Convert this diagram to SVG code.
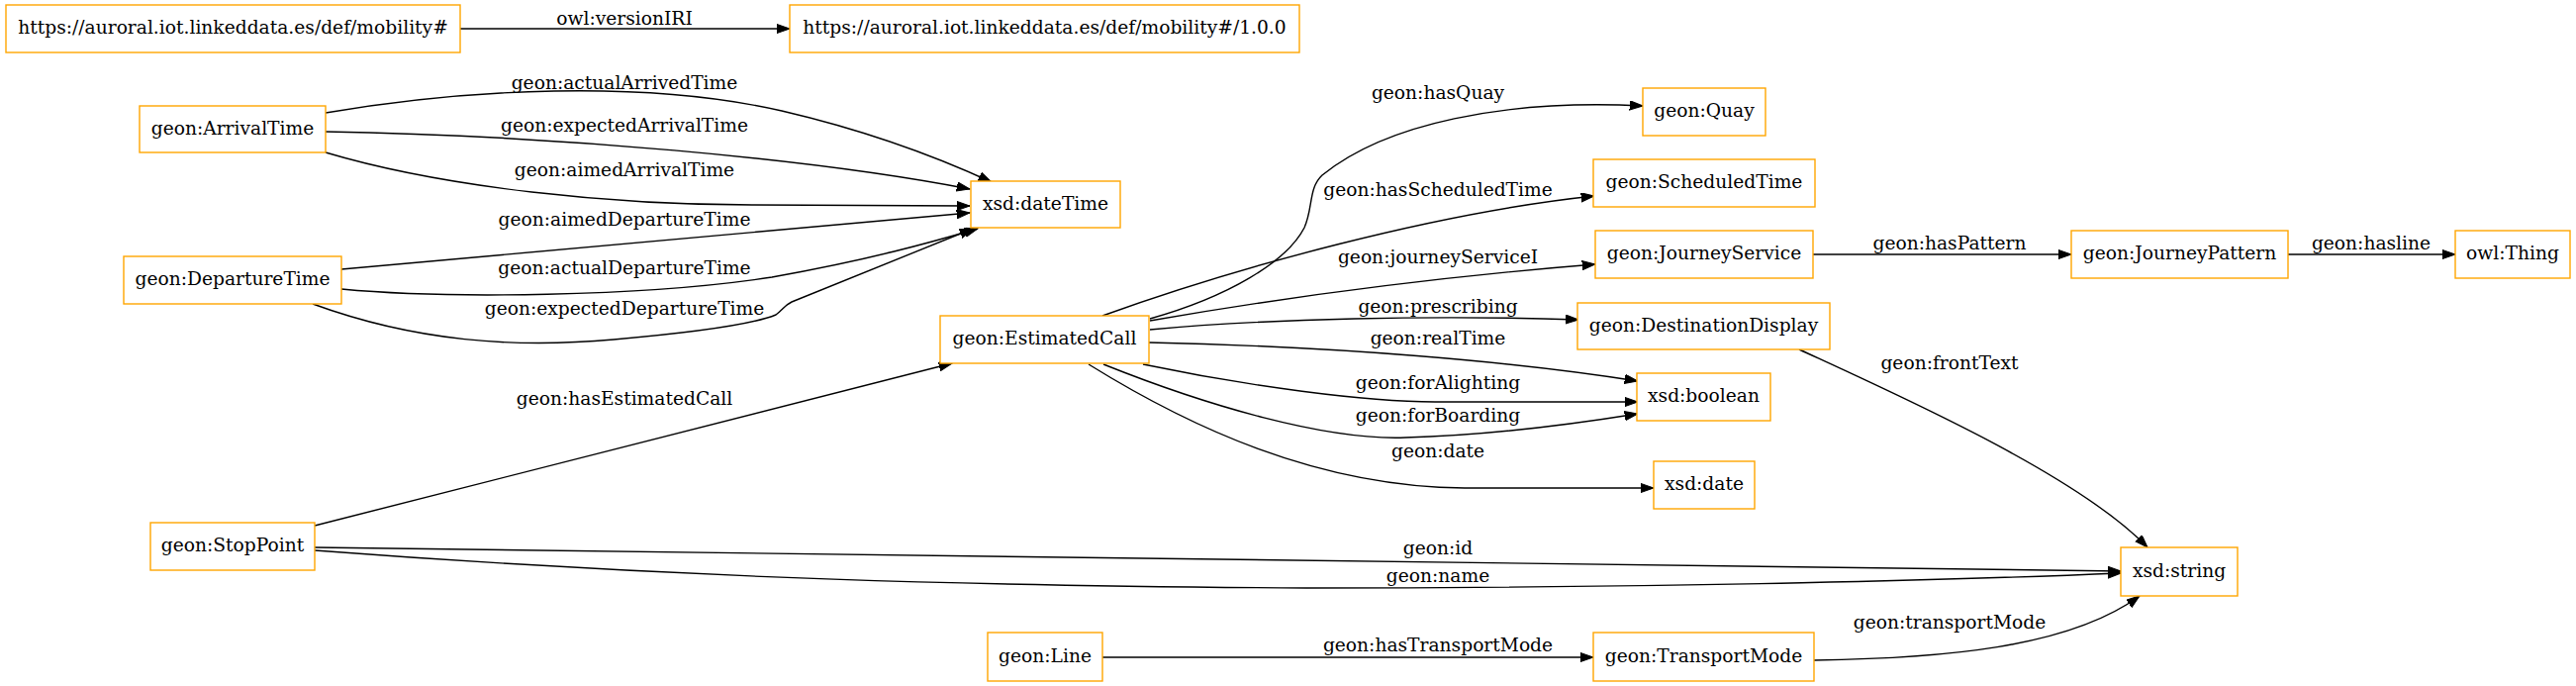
<svg xmlns="http://www.w3.org/2000/svg" width="2603" height="693" viewBox="0 0 2603 693">
<style>
.n rect{fill:#fff;stroke:#FFA500;stroke-width:1.4}
.n text,.lbl text{font-family:"DejaVu Serif","Liberation Serif",serif;font-size:18.67px;fill:#000;text-anchor:middle}
.e path{fill:none;stroke:#000;stroke-width:1.4}
</style>
<defs>
<marker id="ah" markerUnits="userSpaceOnUse" viewBox="0 0 14 10" refX="13.3" refY="4.67" markerWidth="14" markerHeight="10" orient="auto">
<path d="M0,0 L13.3,4.67 L0,9.33 z" fill="#000" stroke="#000" stroke-width="1"/>
</marker>
</defs>
<rect width="2603" height="693" fill="#fff"/>
<g id="edges" class="e">
<path marker-end="url(#ah)" d="M465,29 L798,29"/>
<path marker-end="url(#ah)" d="M329,114 C470,90 650,80 790,112 C880,133 950,160 1002,184"/>
<path marker-end="url(#ah)" d="M329,133 C560,137 820,160 980,191"/>
<path marker-end="url(#ah)" d="M329,154 C450,190 620,207 760,207 C850,207 930,208 980,208"/>
<path marker-end="url(#ah)" d="M345,272 L980,215"/>
<path marker-end="url(#ah)" d="M345,292 C450,302 650,300 780,280 C880,262 940,245 988,231"/>
<path marker-end="url(#ah)" d="M316,307 C420,345 520,352 620,343 C700,336 760,328 784,318 C792,312 792,309 800,305 L983,231"/>
<path marker-end="url(#ah)" d="M318,531 L962,367"/>
<path marker-end="url(#ah)" d="M1162,322 C1240,300 1300,265 1318,230 C1327,210 1322,190 1336,177 C1400,125 1520,100 1660,107"/>
<path marker-end="url(#ah)" d="M1114,319 C1250,270 1450,215 1611,198"/>
<path marker-end="url(#ah)" d="M1162,324 C1300,300 1450,280 1612,267"/>
<path marker-end="url(#ah)" d="M1162,333 C1280,322 1450,318 1595,323"/>
<path marker-end="url(#ah)" d="M1161,346 C1350,350 1530,365 1655,385"/>
<path marker-end="url(#ah)" d="M1155,368 C1260,390 1380,406 1450,406 L1655,406"/>
<path marker-end="url(#ah)" d="M1115,368 C1220,410 1340,445 1420,442 C1500,440 1580,430 1655,418"/>
<path marker-end="url(#ah)" d="M1100,368 C1200,430 1330,492 1480,493 L1671,493"/>
<path marker-end="url(#ah)" d="M1832,257 L2093,257"/>
<path marker-end="url(#ah)" d="M2312,257 L2481,257"/>
<path marker-end="url(#ah)" d="M1818,353 C1920,400 2100,480 2170,553"/>
<path marker-end="url(#ah)" d="M318,553 L2143,577"/>
<path marker-end="url(#ah)" d="M318,556 C700,585 1000,592 1320,594 C1700,594 2000,585 2143,579"/>
<path marker-end="url(#ah)" d="M1114,664 L1610,664"/>
<path marker-end="url(#ah)" d="M1833,667 C1960,665 2090,655 2162,602"/>
</g>
<g id="edge-labels" class="lbl">
<text x="631" y="25">owl:versionIRI</text>
<text x="631" y="90">geon:actualArrivedTime</text>
<text x="631" y="133">geon:expectedArrivalTime</text>
<text x="631" y="178">geon:aimedArrivalTime</text>
<text x="631" y="228">geon:aimedDepartureTime</text>
<text x="631" y="277">geon:actualDepartureTime</text>
<text x="631" y="318">geon:expectedDepartureTime</text>
<text x="631" y="409">geon:hasEstimatedCall</text>
<text x="1453" y="100">geon:hasQuay</text>
<text x="1453" y="198">geon:hasScheduledTime</text>
<text x="1453" y="266">geon:journeyServiceI</text>
<text x="1453" y="316">geon:prescribing</text>
<text x="1453" y="348">geon:realTime</text>
<text x="1453" y="393">geon:forAlighting</text>
<text x="1453" y="426">geon:forBoarding</text>
<text x="1453" y="462">geon:date</text>
<text x="1970" y="252">geon:hasPattern</text>
<text x="2396" y="252">geon:hasline</text>
<text x="1970" y="373">geon:frontText</text>
<text x="1453" y="560">geon:id</text>
<text x="1453" y="588">geon:name</text>
<text x="1453" y="658">geon:hasTransportMode</text>
<text x="1970" y="635">geon:transportMode</text>
</g>
<g id="n-mobility" class="n"><rect x="6" y="5" width="459" height="48"/><text x="235.5" y="34">https://auroral.iot.linkeddata.es/def/mobility#</text></g>
<g id="n-mobility-version" class="n"><rect x="798" y="5" width="515" height="48"/><text x="1055.5" y="34">https://auroral.iot.linkeddata.es/def/mobility#/1.0.0</text></g>
<g id="n-ArrivalTime" class="n"><rect x="141" y="107" width="188" height="47"/><text x="235" y="136">geon:ArrivalTime</text></g>
<g id="n-DepartureTime" class="n"><rect x="125" y="259" width="220" height="48"/><text x="235" y="288">geon:DepartureTime</text></g>
<g id="n-dateTime" class="n"><rect x="981" y="183" width="151" height="47"/><text x="1056.5" y="212">xsd:dateTime</text></g>
<g id="n-EstimatedCall" class="n"><rect x="950" y="319" width="211" height="48"/><text x="1055.5" y="348">geon:EstimatedCall</text></g>
<g id="n-StopPoint" class="n"><rect x="152" y="528" width="166" height="48"/><text x="235" y="557">geon:StopPoint</text></g>
<g id="n-Line" class="n"><rect x="998" y="639" width="116" height="49"/><text x="1056" y="669">geon:Line</text></g>
<g id="n-Quay" class="n"><rect x="1660" y="89" width="124" height="48"/><text x="1722" y="118">geon:Quay</text></g>
<g id="n-ScheduledTime" class="n"><rect x="1610" y="161" width="224" height="48"/><text x="1722" y="190">geon:ScheduledTime</text></g>
<g id="n-JourneyService" class="n"><rect x="1612" y="233" width="220" height="48"/><text x="1722" y="262">geon:JourneyService</text></g>
<g id="n-JourneyPattern" class="n"><rect x="2093" y="233" width="219" height="48"/><text x="2202.5" y="262">geon:JourneyPattern</text></g>
<g id="n-Thing" class="n"><rect x="2481" y="233" width="116" height="48"/><text x="2539" y="262">owl:Thing</text></g>
<g id="n-DestinationDisplay" class="n"><rect x="1594" y="306" width="255" height="47"/><text x="1721.5" y="335">geon:DestinationDisplay</text></g>
<g id="n-boolean" class="n"><rect x="1654" y="377" width="135" height="48"/><text x="1721.5" y="406">xsd:boolean</text></g>
<g id="n-date" class="n"><rect x="1671" y="466" width="102" height="48"/><text x="1722" y="495">xsd:date</text></g>
<g id="n-string" class="n"><rect x="2143" y="553" width="118" height="49"/><text x="2202" y="583">xsd:string</text></g>
<g id="n-TransportMode" class="n"><rect x="1610" y="639" width="223" height="49"/><text x="1721.5" y="669">geon:TransportMode</text></g>
</svg>
